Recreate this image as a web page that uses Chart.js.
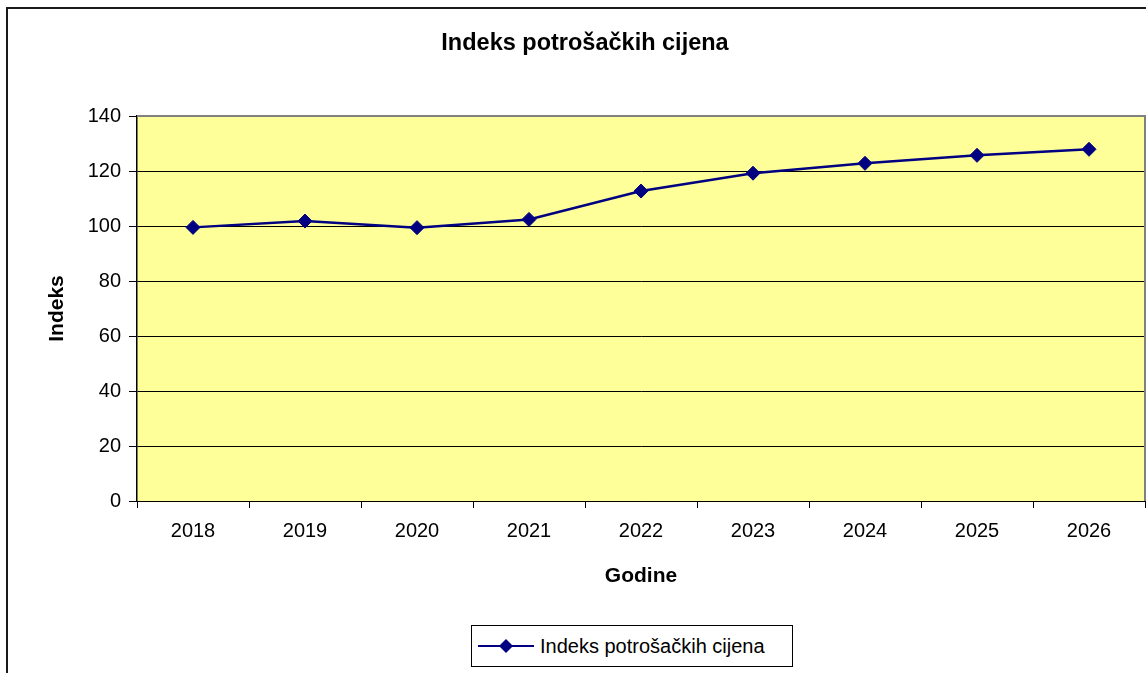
<!DOCTYPE html>
<html>
<head>
<meta charset="utf-8">
<title>Indeks potrošačkih cijena</title>
<script src="https://cdn.jsdelivr.net/npm/chart.js@4.4.1/dist/chart.umd.min.js"></script>
<style>
  html, body { margin: 0; padding: 0; background: #fff; overflow: hidden; }
  #wrap { position: relative; width: 1146px; height: 673px; }
  #frame {
    position: absolute; left: 6px; top: 7px; width: 1200px; height: 720px;
    border-left: 2px solid #1a1a1a; border-top: 2px solid #1a1a1a;
    pointer-events: none;
  }
  #legend {
    position: absolute; left: 471px; top: 625px; width: 320px; height: 40px;
    border: 1px solid #000; background: #fff; box-sizing: content-box;
    font: 20px Arial, "Liberation Sans", sans-serif; color: #000;
    display: flex; align-items: center;
  }
  #legend svg { margin-left: 6px; margin-right: 6px; }
</style>
</head>
<body>
<div id="wrap">
  <canvas id="cpiChart" width="1146" height="673"></canvas>
  <div id="frame"></div>
  <div id="legend">
    <svg width="56" height="20" viewBox="0 0 56 20">
      <line x1="0" y1="10" x2="56" y2="10" stroke="#000080" stroke-width="2"/>
      <polygon points="28,3 35,10 28,17 21,10" fill="#000080"/>
    </svg>
    <span id="legendText"></span>
  </div>
</div>
<script>
const seriesName = "Indeks potrošačkih cijena"
const years = ["2018", "2019", "2020", "2021", "2022", "2023", "2024", "2025", "2026"]
const cpiValues = [99.5, 101.8, 99.4, 102.4, 112.7, 119.2, 122.8, 125.7, 127.9]
const yMin = 0
const yMax = 140
const yStep = 20

const FONT = "Arial, 'Liberation Sans', sans-serif"

document.getElementById("legendText").textContent = seriesName

// yellow plot area + grey top/right border like the Excel chart
const plotArea = {
  id: "plotArea",
  beforeDraw(chart) {
    const { ctx, chartArea: a } = chart
    ctx.save()
    ctx.fillStyle = "#FFFF99"
    ctx.fillRect(a.left, a.top, a.right - a.left, a.bottom - a.top)
    ctx.restore()
  },
  afterDraw(chart) {
    const { ctx, chartArea: a } = chart
    ctx.save()
    ctx.strokeStyle = "#808080"
    ctx.lineWidth = 2
    ctx.beginPath()
    ctx.moveTo(a.left, a.top)
    ctx.lineTo(a.right, a.top)
    ctx.lineTo(a.right, a.bottom)
    ctx.stroke()
    ctx.restore()
  }
}

new Chart(document.getElementById("cpiChart"), {
  type: "line",
  data: {
    labels: years,
    datasets: [{
      label: seriesName,
      data: cpiValues,
      borderColor: "#000080",
      borderWidth: 2.5,
      tension: 0,
      fill: false,
      pointStyle: "rectRot",
      pointRadius: 7,
      pointBackgroundColor: "#000080",
      pointBorderColor: "#000080",
      pointBorderWidth: 1
    }]
  },
  options: {
    responsive: false,
    animation: false,
    devicePixelRatio: 1,
    layout: { autoPadding: false, padding: { left: 25, right: 1, top: 0, bottom: 0 } },
    plugins: {
      legend: { display: false },
      tooltip: { enabled: false },
      title: {
        display: true,
        text: seriesName,
        color: "#000",
        font: { family: FONT, size: 23.5, weight: "bold" },
        padding: { top: 29, bottom: 58.8 }
      }
    },
    scales: {
      x: {
        offset: true,
        afterFit: (s) => {
          s.height = 172
          s.paddingLeft = 0
          s.paddingRight = 0
        },
        grid: {
          offset: true,
          drawOnChartArea: false,
          drawTicks: true,
          tickLength: 7,
          color: "#000",
          lineWidth: 1
        },
        border: { display: true, color: "#000", width: 1 },
        ticks: {
          color: "#000",
          padding: 11,
          maxRotation: 0,
          font: { family: FONT, size: 20 }
        },
        title: {
          display: true,
          text: "Godine",
          color: "#000",
          font: { family: FONT, size: 21, weight: "bold" },
          padding: { top: 0, bottom: 84 }
        }
      },
      y: {
        min: yMin,
        max: yMax,
        afterFit: (s) => { s.width = 112 },
        grid: {
          color: "#000",
          lineWidth: 1,
          drawTicks: true,
          tickLength: 8
        },
        border: { display: true, color: "#000", width: 1.5 },
        ticks: {
          stepSize: yStep,
          color: "#000",
          padding: 8,
          font: { family: FONT, size: 20 }
        },
        title: {
          display: true,
          text: "Indeks",
          color: "#000",
          font: { family: FONT, size: 21, weight: "bold" },
          padding: { top: 20, bottom: 0 }
        }
      }
    }
  },
  plugins: [plotArea]
})
</script>
</body>
</html>
